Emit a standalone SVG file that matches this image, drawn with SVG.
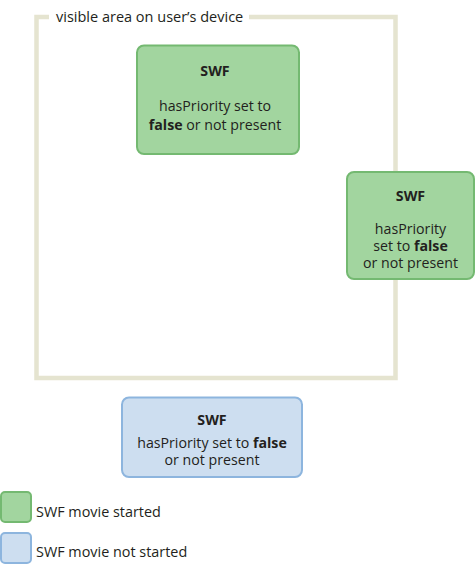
<svg xmlns="http://www.w3.org/2000/svg" width="475" height="564" viewBox="0 0 475 564">
<style>
.frame{fill:none;stroke:#e5e4d0;stroke-width:4.5}
.g{fill:#a2d59f;stroke:#74b971;stroke-width:2}
.b{fill:#cddef0;stroke:#8db5de;stroke-width:2}
text{font-family:"Open Sans","Noto Sans",sans-serif;font-size:14.2px;fill:#231f20}
.c{text-anchor:middle}
.bold{font-weight:bold}
.lg{font-size:14.4px}
</style>
<rect width="475" height="564" fill="#ffffff"/>
<g id="frame">
<path class="frame" d="M49,17 H36.5 V378 H395.5 V17 H249"/>
<text x="56" y="21.5" style="font-size:14.5px">visible area on user’s device</text>
</g>
<g id="swf1">
<rect class="g" x="137" y="45.5" width="162" height="108.5" rx="7"/>
<text class="c bold" x="215" y="76">SWF</text>
<text class="c" x="215" y="111">hasPriority set to</text>
<text class="c" x="215" y="130"><tspan class="bold">false</tspan> or not present</text>
</g>
<g id="swf2">
<rect class="g" x="347" y="172" width="127" height="107" rx="7"/>
<text class="c bold" x="410.5" y="201">SWF</text>
<text class="c" x="410.5" y="234">hasPriority</text>
<text class="c" x="410.5" y="251">set to <tspan class="bold">false</tspan></text>
<text class="c" x="410.5" y="268">or not present</text>
</g>
<g id="swf3">
<rect class="b" x="122" y="397.5" width="180" height="79.5" rx="7"/>
<text class="c bold" x="212" y="425">SWF</text>
<text class="c" x="212" y="448">hasPriority set to <tspan class="bold">false</tspan></text>
<text class="c" x="212" y="465">or not present</text>
</g>
<g id="legend">
<rect class="g" x="1" y="492" width="30" height="30" rx="4"/>
<text class="lg" x="36" y="517">SWF movie started</text>
<rect class="b" x="1" y="533" width="30" height="30" rx="4"/>
<text class="lg" x="36" y="557">SWF movie not started</text>
</g>
<g id="connectors"/>
</svg>
